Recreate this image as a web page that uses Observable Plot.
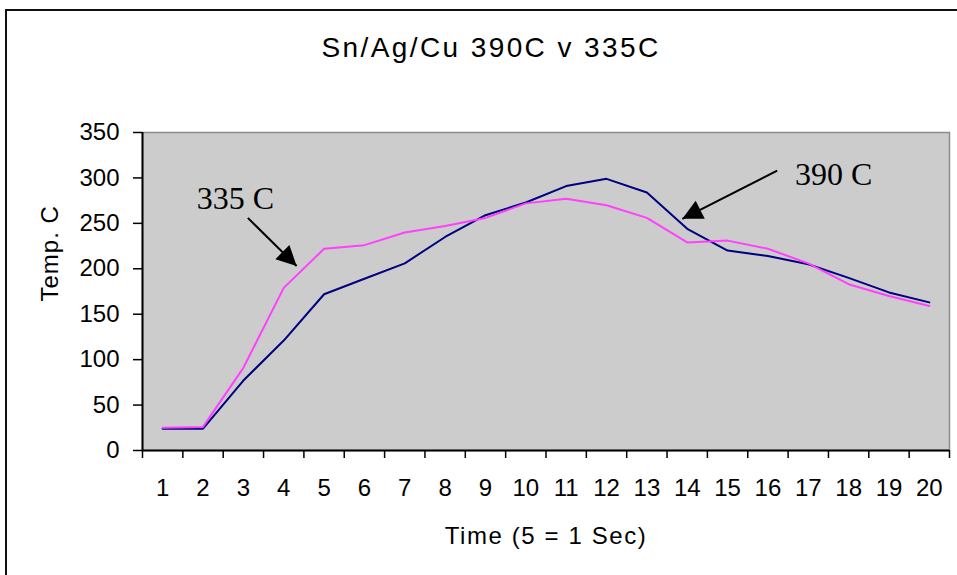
<!DOCTYPE html>
<html>
<head>
<meta charset="utf-8">
<script src="https://cdn.jsdelivr.net/npm/d3@7"></script>
<script src="https://cdn.jsdelivr.net/npm/@observablehq/plot@0.6"></script>
<style>
  html, body { margin: 0; padding: 0; background: #fff; overflow: hidden; }
  #wrap { position: relative; width: 957px; height: 575px; }
  #border { position: absolute; left: 5px; top: 9px; width: 980px; height: 600px;
            border-left: 2px solid #111; border-top: 2px solid #111; pointer-events: none; }
  #chart svg { display: block; }
</style>
</head>
<body>
<div id="wrap"><div id="chart"></div><div id="border"></div></div>
<script>
// ---- data ----
const title = "Sn/Ag/Cu 390C v 335C";
const xLabel = "Time (5 = 1 Sec)";
const yLabel = "Temp. C";
const time = [1,2,3,4,5,6,7,8,9,10,11,12,13,14,15,16,17,18,19,20];
const temp390 = [24,24,77,121,172,189,206,235,259,273,291,299,284,244,220,214,205,190,174,163];
const temp335 = [25,26,91,179,222,226,240,247,256,272,277,270,256,229,231,222,206,183,170,159];
const yTicks = [0,50,100,150,200,250,300,350];
const seriesNames = ["390 C", "335 C"];
const seriesColors = ["#000080", "#ff40ff"];
const annLabels = ["335 C", "390 C"];
const annTextX = [2.8, 17.63];
const annTextY = [266, 292];
const arrowX1 = [3.11, 16.23];
const arrowY1 = [256, 308];
const arrowX2 = [4.32, 13.88];
const arrowY2 = [203, 255];

// ---- derived tables ----
const rows = [];
time.forEach((t, i) => {
  rows.push({time: t, temp: temp390[i], series: seriesNames[0]});
  rows.push({time: t, temp: temp335[i], series: seriesNames[1]});
});
const boundaries = [time[0] - 0.5, ...time.map(t => t + 0.5)];
const notes = annLabels.map((l, i) => ({label: l, x: annTextX[i], y: annTextY[i]}));
const arrows = annLabels.map((l, i) => ({x1: arrowX1[i], y1: arrowY1[i], x2: arrowX2[i], y2: arrowY2[i]}));

const chart = Plot.plot({
  width: 957,
  height: 575,
  marginLeft: 142,
  marginRight: 8,
  marginTop: 132,
  marginBottom: 125,
  style: {fontFamily: "'Liberation Sans', Arial, sans-serif", background: "transparent", color: "#000"},
  x: {type: "linear", domain: [boundaries[0], boundaries[boundaries.length - 1]]},
  y: {domain: [0, 350]},
  color: {domain: seriesNames, range: seriesColors},
  marks: [
    Plot.frame({fill: "#cccccc", stroke: "#8c8c8c", strokeWidth: 1.5}),
    Plot.ruleY([0], {stroke: "#000", strokeWidth: 2}),
    Plot.ruleX([boundaries[0]], {stroke: "#000", strokeWidth: 2}),
    Plot.axisY({ticks: yTicks, tickSize: 9, tickPadding: 14, fontSize: 24, label: null, stroke: "#000", strokeWidth: 1.5}),
    Plot.axisX({ticks: boundaries, tickSize: 8, tickFormat: () => "", label: null, stroke: "#000", strokeWidth: 1.5}),
    Plot.axisX({ticks: time, tickSize: 0, tickPadding: 28, fontSize: 24, label: null, tickFormat: d => String(d)}),
    Plot.lineY(rows, {x: "time", y: "temp", z: "series", stroke: "series", strokeWidth: 2}),
    Plot.text(notes, {x: "x", y: "y", text: "label", fontSize: 32, fontFamily: "'Liberation Serif', 'Times New Roman', serif", textAnchor: "middle", lineAnchor: "bottom", fill: "#000"}),
    Plot.link(arrows, {x1: "x1", y1: "y1", x2: "x2", y2: "y2", stroke: "#000", strokeWidth: 2}),
    Plot.text([title], {frameAnchor: "top", dx: -55, dy: -84, fontSize: 28, lineAnchor: "middle", fill: "#000"}),
    Plot.text([xLabel], {frameAnchor: "bottom", dx: 0, dy: 86, fontSize: 24, lineAnchor: "middle", fill: "#000"}),
    Plot.text([yLabel], {frameAnchor: "left", dx: -92, dy: 10, rotate: -90, fontSize: 24, lineAnchor: "middle", fill: "#000"})
  ]
});

// filled arrowheads on annotation arrows
const svgNS = "http://www.w3.org/2000/svg";
const defs = document.createElementNS(svgNS, "defs");
chart.insertBefore(defs, chart.firstChild);
const marker = document.createElementNS(svgNS, "marker");
marker.setAttribute("id", "filled-arrow");
marker.setAttribute("markerUnits", "userSpaceOnUse");
marker.setAttribute("markerWidth", "26");
marker.setAttribute("markerHeight", "26");
marker.setAttribute("viewBox", "-2 -13 26 26");
marker.setAttribute("refX", "20");
marker.setAttribute("refY", "0");
marker.setAttribute("orient", "auto");
const head = document.createElementNS(svgNS, "path");
head.setAttribute("d", "M0,-10L20,0L0,10Z");
head.setAttribute("fill", "#000");
head.setAttribute("stroke", "none");
marker.appendChild(head);
defs.appendChild(marker);
chart.querySelectorAll('g[aria-label="link"] path, g[aria-label="link"] line').forEach(p => {
  p.setAttribute("marker-end", "url(#filled-arrow)");
});
// letter spacing for title and labels (stretched look)
chart.querySelectorAll("text").forEach(t => {
  if (t.textContent === title) t.setAttribute("letter-spacing", "2.4");
  if (t.textContent === xLabel) t.setAttribute("letter-spacing", "1.6");
  if (t.textContent === yLabel) t.setAttribute("letter-spacing", "1");
});
document.getElementById("chart").appendChild(chart);
</script>
</body>
</html>
